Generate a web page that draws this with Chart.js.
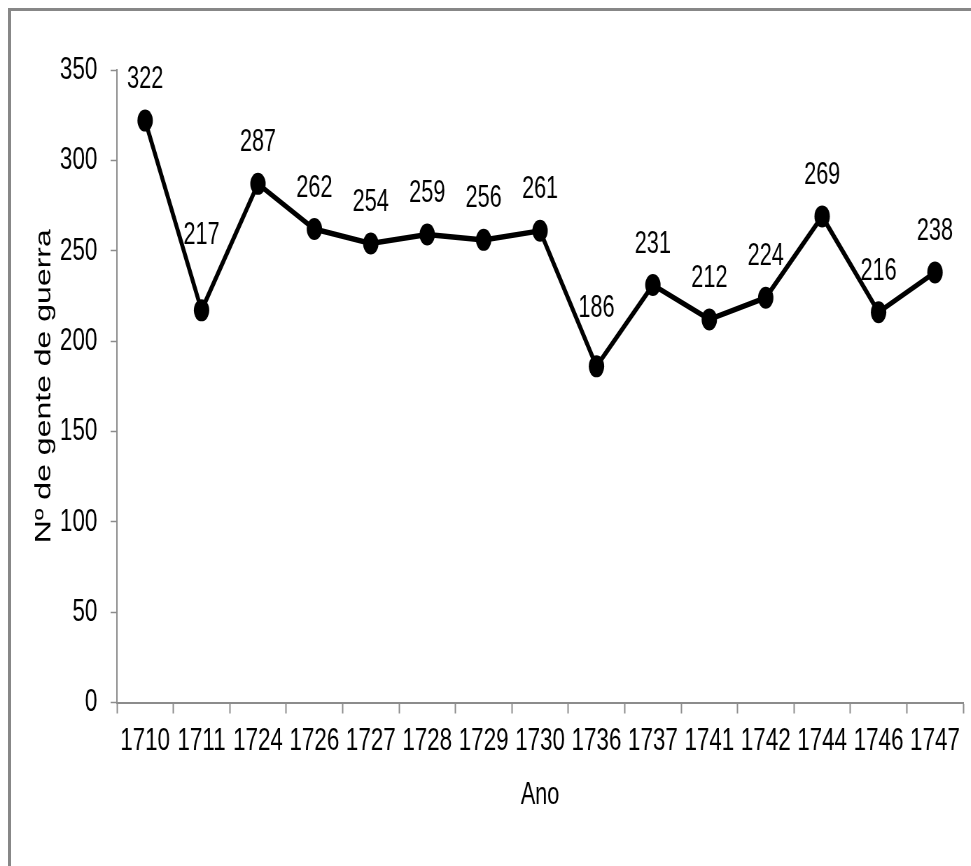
<!DOCTYPE html>
<html lang="pt">
<head>
<meta charset="utf-8">
<title>Nº de gente de guerra por ano</title>
<script src="https://cdn.jsdelivr.net/npm/chart.js@4.4.1/dist/chart.umd.min.js"></script>
<style>
  html, body { margin: 0; padding: 0; background: #fff; overflow: hidden; width: 971px; height: 866px; }
  #frame {
    position: absolute; left: 8px; top: 8px; width: 2000px; height: 2000px;
    border-top: 3px solid #878787; border-left: 3px solid #878787;
    pointer-events: none;
  }
  /* the figure is drawn wide and squeezed horizontally to a narrow look */
  #chart {
    position: absolute; left: 0; top: 0;
    transform: scaleX(0.7); transform-origin: 0 0;
  }
</style>
</head>
<body>
<div id="frame"></div>
<canvas id="chart" width="1388" height="866"></canvas>
<script>
// Years of each count
const years = ['1710', '1711', '1724', '1726', '1727', '1728', '1729', '1730',
               '1736', '1737', '1741', '1742', '1744', '1746', '1747'];
// Number of men-at-arms per year
const soldiers = [322, 217, 287, 262, 254, 259, 256, 261, 186, 231, 212, 224, 269, 216, 238];
// Value axis range
const yMin = 0;
const yMax = 350;
const yStep = 50;

const FONT = '"Liberation Sans", Arial, sans-serif';
const AXIS_GREY = '#8c8c8c';

// Writes each point's value above its marker
const pointValues = {
  id: 'pointValues',
  afterDatasetsDraw(chart, args, opts) {
    const ctx = chart.ctx;
    const meta = chart.getDatasetMeta(0);
    const values = chart.data.datasets[0].data;
    ctx.save();
    ctx.font = opts.size + 'px ' + FONT;
    ctx.fillStyle = '#000';
    ctx.textAlign = 'center';
    ctx.textBaseline = 'middle';
    meta.data.forEach((pt, i) => {
      const lift = opts.lift[i] !== undefined ? opts.lift[i] : opts.defaultLift;
      ctx.fillText(String(values[i]), pt.x, pt.y - lift);
    });
    ctx.restore();
  }
};

new Chart(document.getElementById('chart'), {
  type: 'line',
  data: {
    labels: years,
    datasets: [{
      data: soldiers,
      borderColor: '#000',
      borderWidth: 5.5,
      backgroundColor: '#000',
      pointBackgroundColor: '#000',
      pointBorderWidth: 0,
      pointRadius: 11,
      pointHoverRadius: 11,
      tension: 0,
      fill: false
    }]
  },
  options: {
    responsive: false,
    animation: false,
    devicePixelRatio: 1,
    layout: { padding: { top: 70, right: 12, bottom: 30, left: 44 } },
    plugins: {
      legend: { display: false },
      tooltip: { enabled: false },
      pointValues: { size: 31, defaultLift: 41, lift: { 1: 75, 8: 58 } }
    },
    scales: {
      x: {
        type: 'category',
        offset: true,
        grid: {
          offset: true,
          drawOnChartArea: false,
          drawTicks: true,
          tickLength: 11,
          tickColor: AXIS_GREY,
          tickWidth: 2
        },
        border: { display: true, color: AXIS_GREY, width: 2 },
        ticks: {
          color: '#000',
          font: { family: FONT, size: 32 },
          padding: 8,
          maxRotation: 0,
          autoSkip: false
        },
        title: {
          display: true,
          text: 'Ano',
          color: '#000',
          font: { family: FONT, size: 31 },
          padding: { top: 0, bottom: 22 }
        },
        afterFit(scale) { scale.height = 133.5; }
      },
      y: {
        min: yMin,
        max: yMax,
        grid: {
          drawOnChartArea: false,
          drawTicks: true,
          tickLength: 9,
          tickColor: AXIS_GREY,
          tickWidth: 1.5
        },
        border: { display: true, color: AXIS_GREY, width: 2 },
        ticks: {
          stepSize: yStep,
          color: '#000',
          font: { family: FONT, size: 32 },
          padding: 19
        },
        title: {
          display: true,
          text: 'Nº de gente de guerra',
          color: '#000',
          font: { family: FONT, size: 32 },
          padding: { top: 0, bottom: 0 }
        },
        afterFit(scale) { scale.width = 123; }
      }
    }
  },
  plugins: [pointValues]
});
</script>
</body>
</html>
